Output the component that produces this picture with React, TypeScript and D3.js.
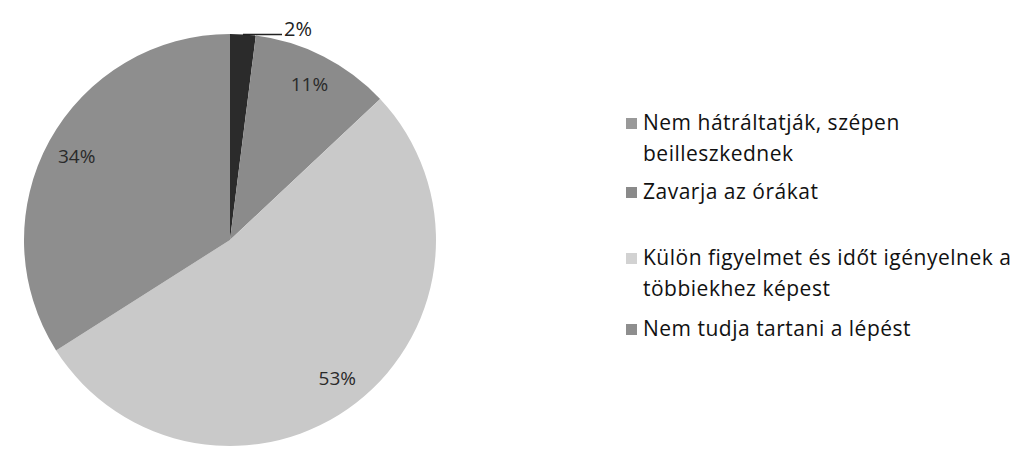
import React from "react";
import * as d3 from "d3";

// Slices in drawing order (clockwise from 12 o'clock)
const sliceLabels = [
  "Nem tudja tartani a lépést",
  "Nem hátráltatják, szépen beilleszkednek",
  "Külön figyelmet és időt igényelnek a többiekhez képest",
  "Zavarja az órákat",
];
const sliceValues = [2, 11, 53, 34];
const sliceColors = ["#2b2b2b", "#8b8b8b", "#c9c9c9", "#8e8e8e"];

// Legend order and line-wrapping
const legendOrder = [
  "Nem hátráltatják, szépen beilleszkednek",
  "Zavarja az órákat",
  "Külön figyelmet és időt igényelnek a többiekhez képest",
  "Nem tudja tartani a lépést",
];
const legendLines = [
  ["Nem hátráltatják, szépen", "beilleszkednek"],
  ["Zavarja az órákat"],
  ["Külön figyelmet és időt igényelnek a", "többiekhez képest"],
  ["Nem tudja tartani a lépést"],
];
const legendMarkerColors = ["#999999", "#8a8a8a", "#d2d2d2", "#8e8e8e"];

const W = 1020;
const H = 450;
const FONT = "'Open Sans', Lato, sans-serif";

export default function App() {
  const cx = 230;
  const cy = 240;
  const r = 206;
  const total = d3.sum(sliceValues);

  const pie = d3
    .pie<number>()
    .sort(null)
    .value((d) => d);
  const arcs = pie(sliceValues);
  const arc = d3.arc<d3.PieArcDatum<number>>().innerRadius(0).outerRadius(r);
  const labelArc = d3
    .arc<d3.PieArcDatum<number>>()
    .innerRadius(175)
    .outerRadius(175);

  const legendX = 626;
  const legendTextX = 643;
  const legendBaselines = [130, 199, 265, 336];
  const lineGap = 31;

  return (
    <svg
      width={W}
      height={H}
      style={{ position: "absolute", left: 0, top: 0, background: "#fff" }}
    >
      <g transform={`translate(${cx},${cy})`}>
        {arcs.map((a, i) => (
          <path key={i} d={arc(a) || ""} fill={sliceColors[i]} />
        ))}
        {arcs.map((a, i) => {
          const pct = Math.round((sliceValues[i] / total) * 100) + "%";
          if (sliceValues[i] / total < 0.05) {
            const mid = (a.startAngle + a.endAngle) / 2;
            const px = Math.sin(mid) * r;
            const py = -Math.cos(mid) * r;
            const ex = 52;
            return (
              <g key={"l" + i}>
                <line
                  x1={px}
                  y1={py}
                  x2={ex}
                  y2={py}
                  stroke="#222"
                  strokeWidth={1.5}
                />
                <text
                  x={ex + 2}
                  y={py + 2}
                  fontFamily={FONT}
                  fontSize={20}
                  fill="#222"
                >
                  {pct}
                </text>
              </g>
            );
          }
          const [lx, ly] = labelArc.centroid(a);
          return (
            <text
              key={"l" + i}
              x={lx}
              y={ly}
              textAnchor="middle"
              dominantBaseline="central"
              fontFamily={FONT}
              fontSize={19}
              fill="#2a2a2a"
            >
              {pct}
            </text>
          );
        })}
      </g>
      <g>
        {legendOrder.map((name, i) => {
          const idx = sliceLabels.indexOf(name);
          const by = legendBaselines[i];
          return (
            <g key={name}>
              <rect
                x={legendX}
                y={by - 12}
                width={11}
                height={11}
                fill={legendMarkerColors[i] || sliceColors[idx]}
              />
              {legendLines[i].map((ln, j) => (
                <text
                  key={j}
                  x={legendTextX}
                  y={by + j * lineGap}
                  fontFamily={FONT}
                  fontSize={21}
                  letterSpacing={0.5}
                  fill="#111"
                >
                  {ln}
                </text>
              ))}
            </g>
          );
        })}
      </g>
    </svg>
  );
}
